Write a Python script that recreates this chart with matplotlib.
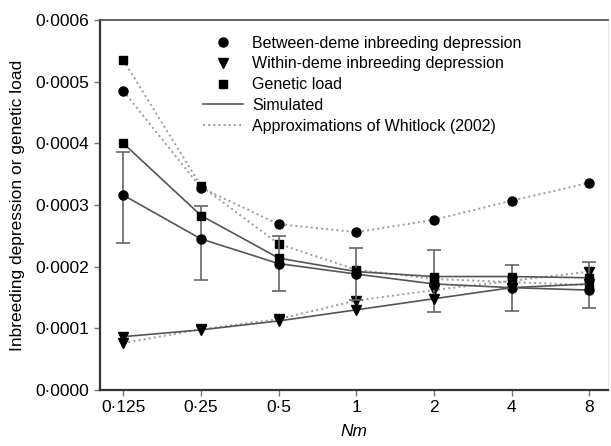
import matplotlib.pyplot as plt
from matplotlib.lines import Line2D

plt.rcParams['font.family'] = ['Liberation Sans', 'DejaVu Sans']

# Nm categories (equally spaced, log2)
nm_labels = ['0·125', '0·25', '0·5', '1', '2', '4', '8']
y_ticks = [0, 0.0001, 0.0002, 0.0003, 0.0004, 0.0005, 0.0006]
y_labels = ['0·0000', '0·0001', '0·0002', '0·0003', '0·0004', '0·0005', '0·0006']

# simulated
between_sim = [0.000316, 0.000245, 0.000205, 0.000188, 0.000172, 0.000166, 0.000162]
within_sim = [0.0000865, 0.0000975, 0.000112, 0.000130, 0.000148, 0.000166, 0.000172]
load_sim = [0.000400, 0.000283, 0.000214, 0.000192, 0.000184, 0.000184, 0.000182]
err_low = [0.0000770, 0.0000670, 0.0000450, 0.0000420, 0.0000450, 0.0000380, 0.0000290]
err_high = [0.0000700, 0.0000540, 0.0000450, 0.0000420, 0.0000550, 0.0000370, 0.0000450]

# approximations of Whitlock (2002)
between_apx = [0.000485, 0.000328, 0.000269, 0.000256, 0.000276, 0.000307, 0.000336]
within_apx = [0.0000762, 0.0000985, 0.000115, 0.000145, 0.000162, 0.000177, 0.000192]
load_apx = [0.000535, 0.000331, 0.000237, 0.000195, 0.000180, 0.000175, 0.000170]

x = list(range(len(nm_labels)))

fig = plt.figure(figsize=(6.11, 4.46), dpi=100)
ax = fig.add_axes([0.1637, 0.1256, 0.8313, 0.8294])

solid_c = '#555555'
dot_c = '#9a9a9a'
ms = 6.5

# dotted approximations
ax.plot(x, between_apx, ls=':', color=dot_c, lw=1.4, marker='o', ms=ms, mfc='black', mec='black', zorder=2)
ax.plot(x, within_apx, ls=':', color=dot_c, lw=1.4, marker='v', ms=ms, mfc='black', mec='black', zorder=2)
ax.plot(x, load_apx, ls=':', color=dot_c, lw=1.4, marker='s', ms=ms - 0.5, mfc='black', mec='black', zorder=2)

# error bars on simulated between-deme
ax.errorbar(x, between_sim, yerr=[err_low, err_high], fmt='none', ecolor='#666666',
            elinewidth=1.2, capsize=5, capthick=1.2, zorder=3)

# simulated solid lines
ax.plot(x, between_sim, ls='-', color=solid_c, lw=1.2, marker='o', ms=ms, mfc='black', mec='black', zorder=4)
ax.plot(x, within_sim, ls='-', color=solid_c, lw=1.2, marker='v', ms=ms, mfc='black', mec='black', zorder=4)
ax.plot(x, load_sim, ls='-', color=solid_c, lw=1.2, marker='s', ms=ms - 0.5, mfc='black', mec='black', zorder=4)

ax.set_xlim(-0.3, 6.24)
ax.set_ylim(0, 0.0006)
ax.set_xticks(x)
ax.set_xticklabels(nm_labels)
ax.set_yticks(y_ticks)
ax.set_yticklabels(y_labels)
ax.tick_params(axis='both', labelsize=12.5, length=4, width=1, color='#777777', direction='out')

for side in ['left', 'bottom']:
    ax.spines[side].set_color('#333333')
    ax.spines[side].set_linewidth(1.6)
ax.spines['top'].set_color('#555555')
ax.spines['top'].set_linewidth(1.3)
ax.spines['right'].set_color('#e6e6e6')
ax.spines['right'].set_linewidth(0.8)

ax.set_xlabel('Nm', fontsize=12.5, style='italic', labelpad=6)
ax.set_ylabel('Inbreeding depression or genetic load', fontsize=12.5, labelpad=8)

handles = [
    Line2D([], [], ls='none', marker='o', ms=ms, color='black'),
    Line2D([], [], ls='none', marker='v', ms=ms, color='black'),
    Line2D([], [], ls='none', marker='s', ms=ms - 0.5, color='black'),
    Line2D([], [], ls='-', color=solid_c, lw=1.2),
    Line2D([], [], ls=':', color=dot_c, lw=1.4),
]
labels = ['Between-deme inbreeding depression', 'Within-deme inbreeding depression',
          'Genetic load', 'Simulated', 'Approximations of Whitlock (2002)']
ax.legend(handles, labels, loc='upper left', bbox_to_anchor=(0.19, 0.975), frameon=False,
          fontsize=11.5, handlelength=2.5, handletextpad=0.6, labelspacing=0.36, borderaxespad=0)

fig.savefig('out.png', dpi=100)
